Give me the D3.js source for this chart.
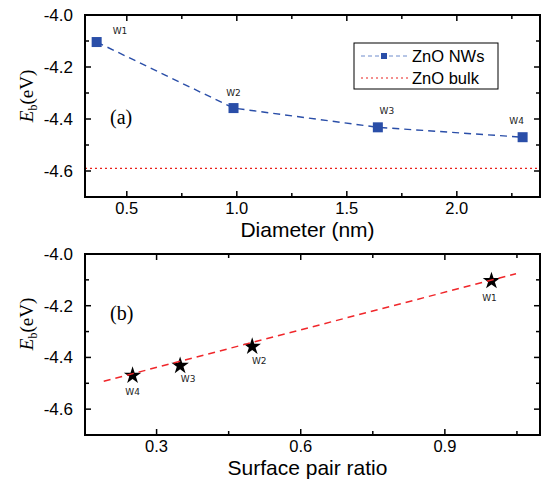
<!DOCTYPE html>
<html>
<head>
<meta charset="utf-8">
<script src="https://cdn.jsdelivr.net/npm/d3@7"></script>
<style>
body { margin: 0; background: #fff; }
text { font-family: "Liberation Sans", Arial, sans-serif; }
</style>
</head>
<body>
<script>
var w = 550;
var h = 481;

// data
var wireNames = ["W1", "W2", "W3", "W4"];
var diameters = [0.363, 0.985, 1.641, 2.299];
var energies = [-4.104, -4.358, -4.432, -4.470];
var bulkEnergy = -4.59;
var pairRatios = [0.997, 0.499, 0.349, 0.250];
var fitX = [0.19, 1.048];
var fitY = [-4.492, -4.076];
var yTicks = [-4.0, -4.2, -4.4, -4.6];
var xTicksA = [0.5, 1.0, 1.5, 2.0];
var xTicksB = [0.3, 0.6, 0.9];

var svg = d3.select("body")
  .append("svg")
  .attr("width", w)
  .attr("height", h);

var left = 85, right = 540;

function isMajorY(d) {
  return Math.abs(Math.round(d * 10)) % 2 == 0;
}

function frame(g, x, y, top, bottom, xMajor, xMinor, xLabel, panel, labelY, panelY) {
  var yMinor = d3.range(-4.7, -3.99, 0.1);
  // ticks inward on all four sides
  g.selectAll(".yt").data(yMinor).enter().append("line")
    .attr("x1", left).attr("x2", function(d) { return left + (isMajorY(d) ? 6 : 4); })
    .attr("y1", y).attr("y2", y)
    .attr("stroke", "#000").attr("stroke-width", 1.5);
  g.selectAll(".ytr").data(yMinor).enter().append("line")
    .attr("x1", right).attr("x2", function(d) { return right - (isMajorY(d) ? 6 : 4); })
    .attr("y1", y).attr("y2", y)
    .attr("stroke", "#000").attr("stroke-width", 1.5);
  var xAll = xMajor.concat(xMinor);
  g.selectAll(".xt").data(xAll).enter().append("line")
    .attr("x1", x).attr("x2", x)
    .attr("y1", bottom).attr("y2", function(d, i) { return bottom - (i < xMajor.length ? 6 : 4); })
    .attr("stroke", "#000").attr("stroke-width", 1.5);
  g.selectAll(".xtt").data(xAll).enter().append("line")
    .attr("x1", x).attr("x2", x)
    .attr("y1", top).attr("y2", function(d, i) { return top + (i < xMajor.length ? 6 : 4); })
    .attr("stroke", "#000").attr("stroke-width", 1.5);

  g.append("rect")
    .attr("x", left).attr("y", top)
    .attr("width", right - left).attr("height", bottom - top)
    .attr("fill", "none").attr("stroke", "#000").attr("stroke-width", 2);

  g.selectAll(".yl").data(yTicks).enter().append("text")
    .attr("x", left - 12).attr("y", function(d) { return y(d) + 6; })
    .attr("text-anchor", "end").attr("font-size", "17px")
    .text(function(d) { return d.toFixed(1); });
  g.selectAll(".xl").data(xMajor).enter().append("text")
    .attr("x", x).attr("y", bottom + 17)
    .attr("text-anchor", "middle").attr("font-size", "16.5px")
    .text(function(d) { return d.toFixed(1); });

  g.append("text")
    .attr("x", (left + right) / 2 - 5).attr("y", bottom + 40)
    .attr("text-anchor", "middle").attr("font-size", "21px")
    .text(xLabel);

  var yl = g.append("text")
    .attr("transform", "translate(33," + labelY + ") rotate(-90)")
    .attr("text-anchor", "middle")
    .style("font-family", "'Liberation Serif', 'Times New Roman', serif")
    .attr("font-size", "19px");
  yl.append("tspan").attr("font-style", "italic").text("E");
  yl.append("tspan").attr("font-size", "12px").attr("dy", 4).text("b");
  yl.append("tspan").attr("dy", -4).text("(eV)");

  g.append("text")
    .attr("x", 110).attr("y", panelY)
    .style("font-family", "'Liberation Serif', 'Times New Roman', serif")
    .attr("font-size", "20px")
    .text(panel);
}

// ---- panel (a) ----
var topA = 15, botA = 197;
var xA = d3.scaleLinear().domain([0.31, 2.378]).range([left, right]);
var yA = d3.scaleLinear().domain([-4.7, -4.0]).range([botA, topA]);
var gA = svg.append("g");

gA.append("line")
  .attr("x1", left).attr("x2", right)
  .attr("y1", yA(bulkEnergy)).attr("y2", yA(bulkEnergy))
  .attr("stroke", "#e8211c").attr("stroke-width", 1.3)
  .attr("stroke-dasharray", "2,3");

var lineA = d3.line()
  .x(function(d, i) { return xA(diameters[i]); })
  .y(function(d) { return yA(d); });

gA.append("path")
  .attr("d", lineA(energies))
  .attr("fill", "none").attr("stroke", "#2a4ea8").attr("stroke-width", 1.4)
  .attr("stroke-dasharray", "7,5");

gA.selectAll(".sq").data(energies).enter().append("rect")
  .attr("x", function(d, i) { return xA(diameters[i]) - 5; })
  .attr("y", function(d) { return yA(d) - 5; })
  .attr("width", 10).attr("height", 10)
  .attr("fill", "#2a4ea8");

var labA = [[16, -8], [0, -12], [9, -13], [-6, -13]];
gA.selectAll(".wl").data(energies).enter().append("text")
  .attr("x", function(d, i) { return xA(diameters[i]) + labA[i][0]; })
  .attr("y", function(d, i) { return yA(d) + labA[i][1]; })
  .attr("text-anchor", function(d, i) { return i == 0 ? "start" : "middle"; })
  .attr("font-size", "9px")
  .style("font-family", "'DejaVu Sans', sans-serif")
  .attr("fill", "#222")
  .text(function(d, i) { return wireNames[i]; });

frame(gA, xA, yA, topA, botA, xTicksA, [0.75, 1.25, 1.75, 2.25], "Diameter (nm)", "(a)", 96, 124);

// legend
var leg = svg.append("g");
leg.append("rect")
  .attr("x", 354).attr("y", 43).attr("width", 144).attr("height", 46)
  .attr("fill", "#fff").attr("stroke", "#000").attr("stroke-width", 1);
leg.append("line")
  .attr("x1", 361).attr("x2", 409).attr("y1", 56).attr("y2", 56)
  .attr("stroke", "#6f8ccc").attr("stroke-width", 1).attr("stroke-dasharray", "4,3");
leg.append("rect")
  .attr("x", 381).attr("y", 53).attr("width", 6).attr("height", 6)
  .attr("fill", "#2a4ea8");
leg.append("line")
  .attr("x1", 361).attr("x2", 409).attr("y1", 78).attr("y2", 78)
  .attr("stroke", "#e8211c").attr("stroke-width", 1.2).attr("stroke-dasharray", "2,3");
leg.append("text").attr("x", 412).attr("y", 62).attr("font-size", "16.5px").text("ZnO NWs");
leg.append("text").attr("x", 412).attr("y", 84).attr("font-size", "16.5px").text("ZnO bulk");

// ---- panel (b) ----
var topB = 254, botB = 435;
var xB = d3.scaleLinear().domain([0.151, 1.098]).range([left, right]);
var yB = d3.scaleLinear().domain([-4.7, -4.0]).range([botB, topB]);
var gB = svg.append("g");

var star = d3.symbol().type(d3.symbolStar).size(95);
gB.selectAll(".st").data(energies).enter().append("path")
  .attr("d", star)
  .attr("transform", function(d, i) { return "translate(" + xB(pairRatios[i]) + "," + yB(d) + ")"; })
  .attr("fill", "#000");

gB.append("line")
  .attr("x1", xB(fitX[0])).attr("x2", xB(fitX[1]))
  .attr("y1", yB(fitY[0])).attr("y2", yB(fitY[1]))
  .attr("stroke", "#f0262a").attr("stroke-width", 1.5)
  .attr("stroke-dasharray", "7,5");

var labB = [[-2, 20], [7, 17], [8, 16], [0, 19]];
gB.selectAll(".wl").data(energies).enter().append("text")
  .attr("x", function(d, i) { return xB(pairRatios[i]) + labB[i][0]; })
  .attr("y", function(d) { return yB(d); })
  .attr("dy", function(d, i) { return labB[i][1]; })
  .attr("text-anchor", "middle")
  .attr("font-size", "9px")
  .style("font-family", "'DejaVu Sans', sans-serif")
  .attr("fill", "#222")
  .text(function(d, i) { return wireNames[i]; });

frame(gB, xB, yB, topB, botB, xTicksB, [0.45, 0.75, 1.05], "Surface pair ratio", "(b)", 324, 320);
</script>
</body>
</html>
